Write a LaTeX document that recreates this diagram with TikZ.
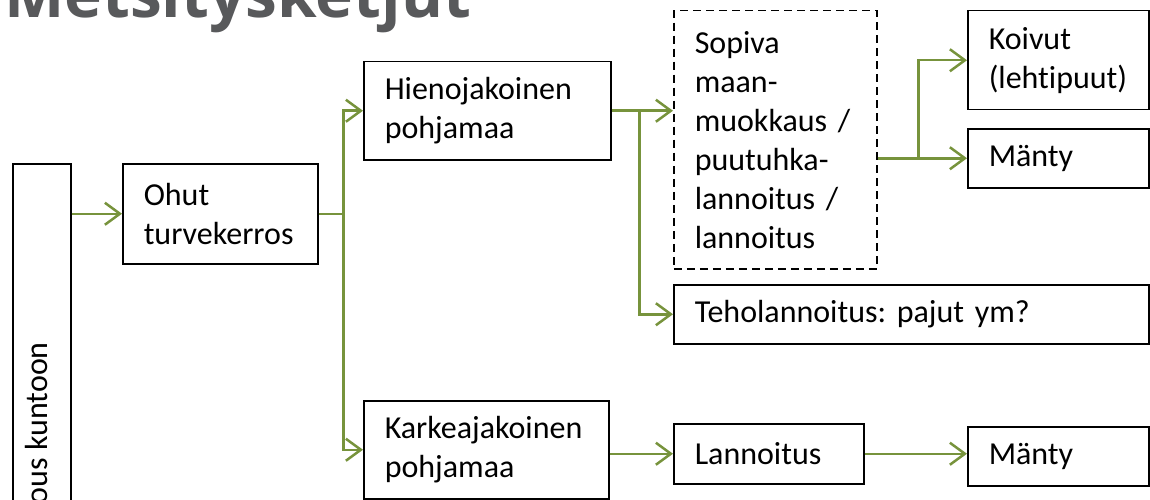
\documentclass[tikz,border=0pt]{standalone}
\usepackage{fontspec}
\setmainfont{Carlito}[Ligatures=NoCommon]
\newfontfamily\titlefont{Open Sans}
\usetikzlibrary{arrows.meta}
\definecolor{conngreen}{HTML}{77933C}
\definecolor{titlegray}{HTML}{58595B}
\frenchspacing
\tikzset{
  box/.style={draw=black, line width=1.5pt, rectangle, anchor=north west, align=left,
    inner xsep=21pt, inner ysep=0pt, font=\fontsize{32}{39}\selectfont},
  dashbox/.style={box, dash pattern=on 8pt off 5pt},
  conn/.style={draw=conngreen, line width=2.5pt, -{Straight Barb[length=15pt,width=22pt]}},
  connplain/.style={draw=conngreen, line width=2.5pt},
}
\begin{document}
\begin{tikzpicture}[x=1pt,y=-1pt]
\clip (0,0) rectangle (1150,500);
\node[anchor=base west, inner sep=0pt, text=titlegray, font=\titlefont\bfseries\fontsize{64}{70}\selectfont] (title) at (4,18) {Metsitysketjut};

\node[box, minimum height=360pt, text width=16pt, inner xsep=21pt] (left) at (12,163) {};
\node[rotate=90, anchor=base east, inner sep=0pt, font=\fontsize{32}{39}\selectfont] (lefttext) at (47,342) {ous kuntoon};

\node[box, text width=153pt, minimum height=100pt] (ohut) at (122,163) {Ohut\\turvekerros};
\node[box, text width=205pt, minimum height=98pt] (hieno) at (363,61) {Hienojakoinen\\pohjamaa};
\node[box, text width=203pt, minimum height=98pt] (karkea) at (363,400) {Karkeajakoinen\\pohjamaa};
\node[dashbox, text width=161pt, minimum height=258pt] (sop) at (673,10) {Sopiva\\maan-\\muokkaus /\\puutuhka-\\lannoitus /\\lannoitus};
\node[box, text width=139pt, minimum height=99pt] (koivut) at (967,10) {Koivut\\(lehtipuut)};
\node[box, text width=139pt, minimum height=59pt] (manty1) at (967,128) {Mänty};
\node[box, text width=433pt, minimum height=59pt] (teho) at (673,284) {Teholannoitus: pajut ym?};
\node[box, text width=148pt, minimum height=60pt] (lann) at (673,423) {Lannoitus};
\node[box, text width=139pt, minimum height=59pt] (manty2) at (967,426) {Mänty};

% connectors
\draw[conn] (ohut.west -| left.east) -- (ohut.west);
\coordinate (j1) at ([xshift=25pt]ohut.east);
\draw[connplain] (ohut.east) -- (j1);
\draw[conn] (j1) |- (hieno.west);
\draw[conn] (j1) |- (karkea.west);
\coordinate (j2) at ([xshift=28pt]hieno.east);
\draw[conn] (hieno.east) -- (hieno.east -| sop.west);
\draw[conn] (j2) |- (teho.west);
\coordinate (j3) at ([xshift=41pt]manty1.west -| sop.east);
\draw[conn] (manty1.west -| sop.east) -- (manty1.west);
\draw[conn] (j3) |- (koivut.west);
\draw[conn] (lann.west -| karkea.east) -- (lann.west);
\draw[conn] (lann.east) -- (lann.east -| manty2.west);
\end{tikzpicture}
\end{document}
